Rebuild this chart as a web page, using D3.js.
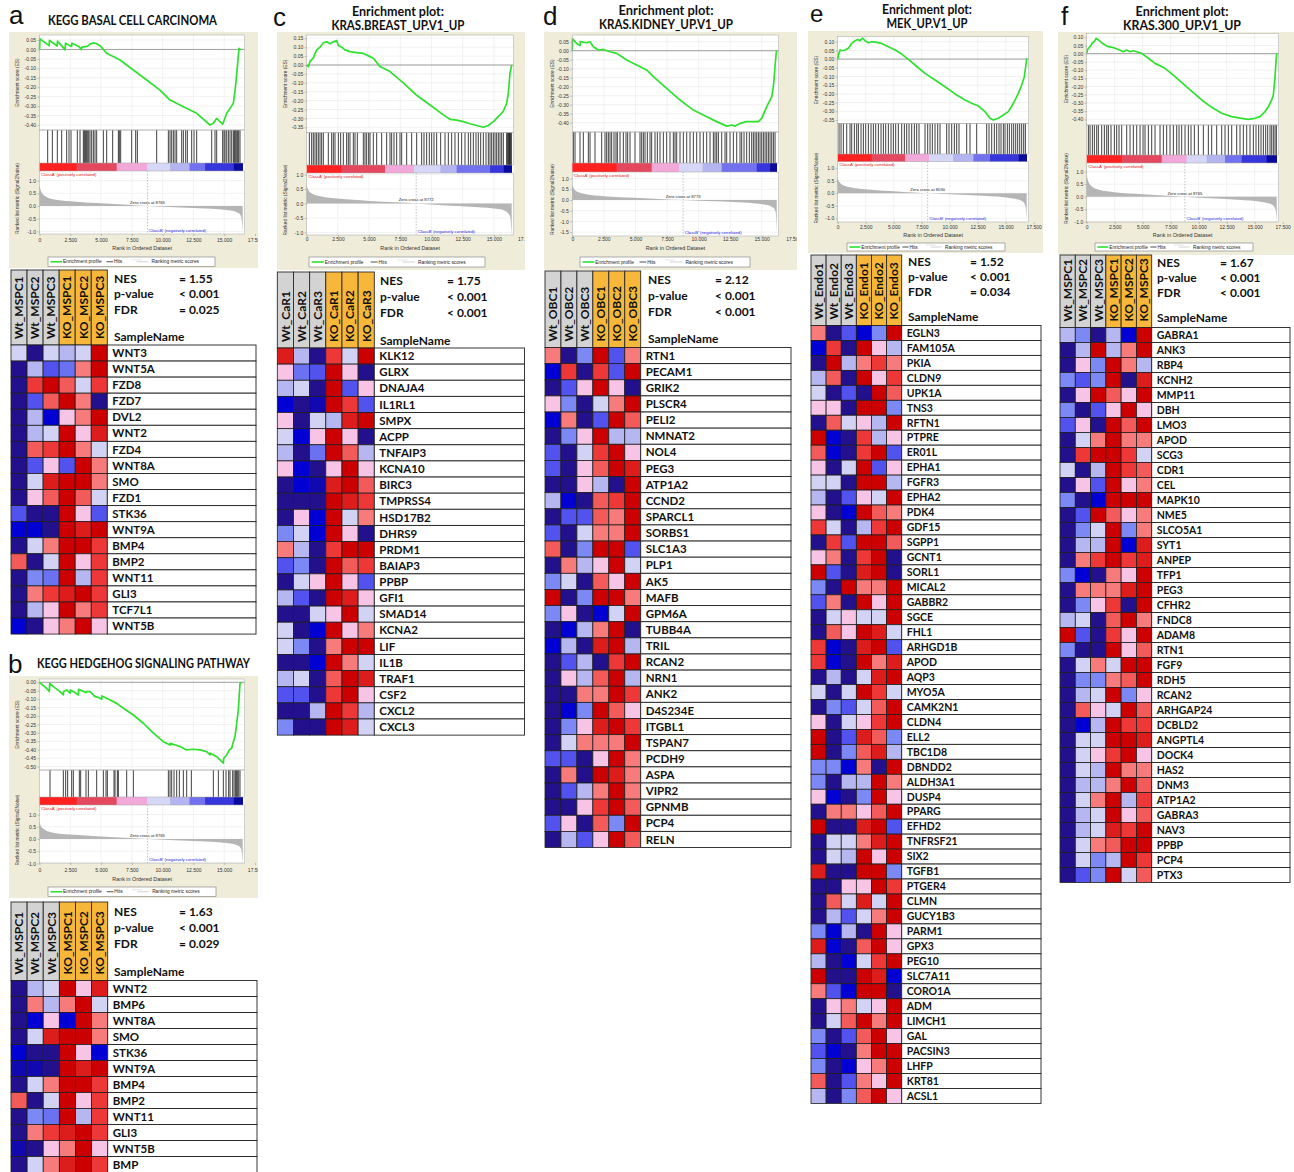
<!DOCTYPE html>
<html>
<head>
<meta charset="utf-8">
<script src="https://cdn.jsdelivr.net/npm/d3@7"></script>
<style>
  body { margin: 0; background: #fff; }
  svg { display: block; }
</style>
</head>
<body>
<svg id="fig" width="1294" height="1172"></svg>
<script>
// ---------------- data ----------------
const statNames = ["NES", "p-value", "FDR"];
const rankTicks = [0, 2500, 5000, 7500, 10000, 12500, 15000, 17500];

const mspcSamples = ["Wt_MSPC1", "Wt_MSPC2", "Wt_MSPC3", "KO_MSPC1", "KO_MSPC2", "KO_MSPC3"];
const carSamples = ["Wt_CaR1", "Wt_CaR2", "Wt_CaR3", "KO_CaR1", "KO_CaR2", "KO_CaR3"];
const obcSamples = ["Wt_OBC1", "Wt_OBC2", "Wt_OBC3", "KO_OBC1", "KO_OBC2", "KO_OBC3"];
const endoSamples = ["Wt_Endo1", "Wt_Endo2", "Wt_Endo3", "KO_Endo1", "KO_Endo2", "KO_Endo3"];

// expression levels (row z-score, -4 lowest .. 4 highest)
const heatLevels = [-4, -3, -2, -1.5, -1, 0, 1, 2, 3, 4];
const heatPalette = ["#22108c", "#0000d4", "#5252ee", "#7c88f4", "#b6b6f0", "#d2d2f5", "#f8c4e6", "#f77b7b", "#ee3838", "#cc0000"];
// ranked-list colour bar levels (+1 most positively, -1 most negatively correlated)
const barLevels = [-1, -0.8, -0.6, -0.4, -0.2, 0.3, 0.7, 1];
const barPalette = ["#0a0a9c", "#3636dc", "#7272ee", "#b4b4f0", "#d6d6f7", "#f2a8d8", "#e4485e", "#ff2020"];

// (a) KEGG basal cell carcinoma
const basalTitle = ["KEGG BASAL CELL CARCINOMA"];
const basalStats = ["= 1.55", "< 0.001", "= 0.025"];
const basalSize = 16500, basalZero = 8765;
const basalESTicks = [0.05, 0, -0.05, -0.10, -0.15, -0.20, -0.25, -0.30, -0.35, -0.40];
const basalES = [[0,0],[40,0.056],[780,0.02],[810,0.048],[1430,0.018],[1460,0.044],[2080,-0.002],[2110,0.033],[2600,0.016],[2630,0.033],[3200,0.016],[3400,-0.002],[3430,0.012],[3880,0.016],[4100,0.028],[4380,0.035],[4650,0.03],[4914,0.02],[5455,-0.02],[6538,-0.056],[7621,-0.109],[8704,-0.162],[9786,-0.215],[10599,-0.268],[11682,-0.303],[12764,-0.338],[13847,-0.40],[14118,-0.391],[14380,-0.365],[14876,-0.396],[15201,-0.338],[15471,-0.312],[15742,-0.285],[15932,-0.188],[16067,-0.091],[16202,0.006],[16338,-0.003]];
const basalHits = [664,1043,1449,1801,2207,2396,2559,3073,3290,3561,3642,3723,3804,3885,3994,4102,4237,4373,4508,4643,5185,5455,5943,6403,6484,6592,7485,7810,7946,9516,10463,10599,10734,10869,11005,11140,11546,11682,11871,12006,12358,12548,12764,13983,14253,14389,14876,14984,15066,15201,15336,15472,15607,15742,15824,15905,16013,16094,16175,16283];
const basalMetric = [[0,0.82],[150,0.55],[500,0.37],[1100,0.27],[2500,0.19],[5000,0.11],[7200,0.05],[8765,0],[10500,-0.04],[13500,-0.1],[15500,-0.18],[16150,-0.28],[16380,-0.42],[16500,-0.95]];
const basalBands = [[0,1],[3019,0.7],[6268,0.3],[8765,-0.2],[10600,-0.4],[12169,-0.6],[13441,-0.8],[15742,-1]];
const basalGenes = ["WNT3","WNT5A","FZD8","FZD7","DVL2","WNT2","FZD4","WNT8A","SMO","FZD1","STK36","WNT9A","BMP4","BMP2","WNT11","GLI3","TCF7L1","WNT5B"];
const basalValues = [
  [0,-4,0,-1,0,4],[-4,-1,-2,-1.7,2,4],[-4,3,4,2.5,0,3],[-4,-2,2.5,4,2,-4],[-4,-1,-3,1,2,4],[-4,-1,0,4,1,3.5],
  [-4,2.5,3,4,2,0],[-4,-2,1,-2,4,2],[-4,0,3.5,4,4,2],[-4,1,2.5,4,2.5,0],[-2,-4,-4,4,1,-2],[-3,-3,-4,4,3.5,4],
  [-4,0,2,4,4,3],[2.5,-4,0,4,1,3],[-4,-1.5,-1.7,4,-1,3],[-4,2,3,3.5,4,3],[-4,-1,1,4,2,3],[-3,-4,1,2,4,1]];

// (b) KEGG hedgehog signalling pathway
const hedgehogTitle = ["KEGG HEDGEHOG SIGNALING PATHWAY"];
const hedgehogStats = ["= 1.63", "< 0.001", "= 0.029"];
const hedgehogSize = 16500, hedgehogZero = 8765;
const hedgehogESTicks = [0, -0.05, -0.10, -0.15, -0.20, -0.25, -0.30, -0.35, -0.40, -0.45, -0.50];
const hedgehogES = [[0,0],[583,-0.036],[799,-0.055],[830,-0.006],[1124,-0.026],[1665,-0.055],[1936,-0.075],[1960,-0.055],[2207,-0.045],[2478,-0.065],[2500,-0.045],[2884,-0.061],[3154,-0.075],[3180,-0.042],[3777,-0.061],[3800,-0.055],[4102,-0.055],[4508,-0.085],[4779,-0.089],[5049,-0.101],[5070,-0.081],[5726,-0.105],[6268,-0.125],[6809,-0.154],[7621,-0.194],[8433,-0.243],[9245,-0.302],[10057,-0.352],[10599,-0.372],[10620,-0.362],[11411,-0.381],[11952,-0.401],[12494,-0.397],[13035,-0.401],[13577,-0.411],[13847,-0.431],[13870,-0.421],[14389,-0.441],[14930,-0.48],[14960,-0.451],[15201,-0.431],[15417,-0.401],[15607,-0.391],[15742,-0.352],[15878,-0.322],[16013,-0.243],[16148,-0.164],[16283,-0.006],[16446,0]];
const hedgehogHits = [854,1936,2126,2288,2613,2748,3235,3344,3777,3967,4643,5185,5401,5510,6051,6132,6322,6403,7080,7621,10463,10599,10734,10924,11140,11357,11682,11952,12331,14118,14524,14930,15146,15363,15471,15688,15796,15905,15986,16067,16175,16283];
const hedgehogMetric = [[0,0.68],[150,0.5],[500,0.36],[1100,0.26],[2500,0.18],[5000,0.1],[7200,0.04],[8765,0],[10500,-0.04],[13500,-0.1],[15500,-0.18],[16150,-0.28],[16380,-0.42],[16500,-0.95]];
const hedgehogBands = [[0,1],[3019,0.7],[6268,0.3],[8765,-0.2],[10600,-0.4],[12169,-0.6],[13441,-0.8],[15742,-1]];
const hedgehogGenes = ["WNT2","BMP6","WNT8A","SMO","STK36","WNT9A","BMP4","BMP2","WNT11","GLI3","WNT5B","BMP"];
const hedgehogValues = [
  [-4,-1,0,4,1,3.5],[-4,2,-1,2,4,0],[-4,-3,1,-3,4,2],[-4,0,3.5,4,4,2],[-3,-4,-4,4,1,-3],[-3.5,-3.5,-4,4,3.5,4],
  [-4,0,2,4,4,3],[2.5,-4,0,4,1,3],[-4,-1.5,-1.7,4,-1,3],[-4,2,3,3.5,4,3],[-3.5,-4,1,2,4,1],[-4,0,2,3.5,4,3]];

// (c) KRAS.BREAST_UP.V1_UP
const breastTitle = ["Enrichment plot:", "KRAS.BREAST_UP.V1_UP"];
const breastStats = ["= 1.75", "< 0.001", "< 0.001"];
const breastSize = 16424, breastZero = 8772;
const breastESTicks = [0.15, 0.10, 0.05, 0, -0.05, -0.10, -0.15, -0.20, -0.25, -0.30, -0.35];
const breastES = [[0,0],[131,-0.01],[264,0.02],[531,0.04],[798,0.085],[1066,0.10],[1333,0.125],[1600,0.13],[1867,0.12],[2134,0.13],[2401,0.137],[2535,0.11],[2802,0.10],[3069,0.085],[3469,0.075],[4004,0.07],[4538,0.065],[5072,0.047],[5339,0.038],[5873,-0.009],[6675,-0.037],[7743,-0.10],[8811,-0.17],[9880,-0.225],[10948,-0.28],[11482,-0.305],[12017,-0.31],[12551,-0.318],[13085,-0.33],[13619,-0.34],[14153,-0.35],[14554,-0.34],[14955,-0.318],[15489,-0.28],[15756,-0.26],[16023,-0.215],[16157,-0.16],[16291,-0.047],[16424,0]];
const breastHits = [211,398,531,665,798,932,1066,1199,1333,1733,2000,2134,2267,2535,2722,2935,3202,3336,3469,3737,3870,4057,4538,4671,4805,4965,5072,5339,5606,6007,6408,6675,6808,6995,7209,7476,7610,8010,8411,8811,9212,9399,9613,9826,10013,10200,10414,10734,11082,11349,11616,11883,12150,12417,12684,12951,13138,13352,13565,13752,13939,14153,14367,14554,14688,14821,14955,15089,15222,15356,15489,15623,15756,16023,16077,16157,16210,16237,16291,16344,16397];
const breastMetric = [[0,0.62],[150,0.45],[500,0.33],[1100,0.25],[2500,0.17],[5000,0.09],[7200,0.04],[8772,0],[10500,-0.05],[13500,-0.12],[15500,-0.2],[16050,-0.3],[16300,-0.45],[16424,-1.1]];
const breastBands = [[0,1],[2802,0.7],[6274,0.3],[8598,-0.2],[10700,-0.4],[12017,-0.6],[14690,-0.8],[15756,-1]];
const breastGenes = ["KLK12","GLRX","DNAJA4","IL1RL1","SMPX","ACPP","TNFAIP3","KCNA10","BIRC3","TMPRSS4","HSD17B2","DHRS9","PRDM1","BAIAP3","PPBP","GFI1","SMAD14","KCNA2","LIF","IL1B","TRAF1","CSF2","CXCL2","CXCL3"];
const breastValues = [
  [3.5,-1,-4,3,0,4],[1,-1.7,-2,4,1,-4],[-1,0,-4,4,-2,1],[-3,-4,-3.5,4,3,-2],[1,-4,0,-1,3.5,4],[0,-3,1,4,1,-4],
  [-1,-4,-1.7,4,2.5,-1],[1,-3,-4,1,4,1],[-4,-3,-3.5,3.5,4,2.5],[-4,-4,-4,4,3.5,3],[-4,1,-3,4,0,2],[-1.5,0,-3,4,1,-4],
  [2,-1,-4,3,4,4],[-2,-1.5,-4,4,2.5,3],[-4,0,1,4,1,-2],[-1,-2,-4,4,3.5,1],[-4,-4,0,1,4,0],[0,-4,-3,4,1,2],
  [0,-1.5,-4,2,4,4],[-4,-4,-3,4,2,0],[-1,0,-4,2.5,4,3.5],[-2,-2,-4,3,4,1],[-4,-4,-1,4,3,-1],[-1.5,-4,-4,4,3.5,0]];

// (d) KRAS.KIDNEY_UP.V1_UP
const kidneyTitle = ["Enrichment plot:", "KRAS.KIDNEY_UP.V1_UP"];
const kidneyStats = ["= 2.12", "< 0.001", "< 0.001"];
const kidneySize = 16186, kidneyZero = 8773;
const kidneyESTicks = [0.05, 0, -0.05, -0.10, -0.15, -0.20, -0.25, -0.30, -0.35, -0.40];
const kidneyES = [[0,0],[20,0.066],[346,0.04],[610,0.028],[640,0.05],[1138,0.044],[1402,0.05],[1666,0.022],[2062,0.004],[2458,0.007],[2986,-0.006],[3514,-0.015],[4306,-0.052],[5098,-0.08],[5890,-0.107],[6418,-0.144],[7474,-0.209],[8530,-0.274],[9586,-0.33],[10642,-0.367],[11434,-0.394],[12226,-0.419],[12622,-0.413],[12886,-0.419],[13282,-0.404],[13810,-0.394],[14338,-0.394],[14734,-0.394],[14998,-0.376],[15394,-0.311],[15790,-0.256],[15922,-0.2],[16054,-0.089],[16140,-0.015],[16186,0.002]];
const kidneyHits = [82,214,610,874,1270,1402,1798,2326,2590,2722,2854,2986,3118,3303,3461,3567,3778,4042,4253,4385,4570,4966,5362,5494,5626,5758,5943,6154,6286,6550,6735,6946,7210,7474,7738,8002,8134,8266,8530,8794,9058,9322,9586,9850,10114,10378,10642,10906,11170,11302,11434,11566,11830,12094,12226,12490,12754,13018,13282,13414,13599,13810,14021,14206,14338,14470,14602,14734,14866,14998,15130,15262,15394,15526,15658,15790,15922,16054];
const kidneyMetric = [[0,0.72],[150,0.5],[500,0.36],[1100,0.27],[2500,0.18],[5000,0.1],[7200,0.04],[8773,0],[10500,-0.05],[13500,-0.12],[15300,-0.22],[15900,-0.35],[16100,-0.55],[16186,-1.45]];
const kidneyBands = [[0,1],[3514,0.7],[6286,0.3],[8477,-0.2],[10300,-0.4],[11830,-0.6],[14602,-0.8],[15658,-1]];
const kidneyGenes = ["RTN1","PECAM1","GRIK2","PLSCR4","PELI2","NMNAT2","NOL4","PEG3","ATP1A2","CCND2","SPARCL1","SORBS1","SLC1A3","PLP1","AK5","MAFB","GPM6A","TUBB4A","TRIL","RCAN2","NRN1","ANK2","D4S234E","ITGBL1","TSPAN7","PCDH9","ASPA","VIPR2","GPNMB","PCP4","RELN"];
const kidneyValues = [
  [2,-4,-1.5,4,-2,2],[-3,3,-4,3,-2,4],[-4,-2,1,4,1,-4],[1,-1.5,-4,0,2,4],[-3,2,-4,-2,4,2.5],[-4,-1.5,1,4,-1,-1],
  [-2,-4,0,3,4,1],[-2,-4,1,2.5,4,3.5],[-4,-4,1,-1,-4,4],[-1,-3,-4,2.5,3,4],[-4,-2,-2,2.5,2,4],[-2,-4,0,2,2,4],
  [2.5,-4,-1.5,4,4,-2],[-4,2,-1,1,4,0],[-1.5,0,-4,2.5,1,4],[4,-4,-1.5,4,4,2],[-1.5,1,-4,-3,0,4],[-4,-3,-1,2,4,-4],
  [-3,-1,-4,3.5,4,-1],[-4,-2,-1,-4,3,4],[-4,1,-1,2.5,4,-1],[-4,-4,2,2,4,3],[-4,-3,-1.5,4,2.5,1],[-4,-1.5,1,3.5,4,3],
  [-4,0,2,2,2,4],[-2,-2,-4,1,4,2],[-4,2,-4,4,3.5,2],[-4,-2,-1,2,4,2],[-4,-4,1,3,4,2.5],[-2,1,-4,2.5,-1.5,4],[-4,-1,-2,1,4,2.5]];

// (e) MEK_UP.V1_UP
const mekTitle = ["Enrichment plot:", "MEK_UP.V1_UP"];
const mekStats = ["= 1.52", "< 0.001", "= 0.034"];
const mekSize = 16874, mekZero = 8030;
const mekESTicks = [0.10, 0.05, 0, -0.05, -0.10, -0.15, -0.20, -0.25, -0.30, -0.35];
const mekES = [[0,0],[60,0.023],[208,0.052],[357,0.048],[655,0.052],[952,0.062],[1250,0.09],[1548,0.106],[1786,0.113],[1994,0.106],[2202,0.12],[2440,0.106],[2738,0.094],[3036,0.10],[3482,0.096],[3928,0.09],[4524,0.071],[5119,0.052],[5714,0.029],[6309,-0.002],[6904,-0.034],[7797,-0.082],[8690,-0.12],[9583,-0.159],[10476,-0.2],[11368,-0.235],[11964,-0.254],[12559,-0.27],[13154,-0.302],[13600,-0.34],[13898,-0.35],[14344,-0.34],[14791,-0.321],[15237,-0.302],[15684,-0.254],[16130,-0.197],[16427,-0.149],[16666,-0.101],[16785,-0.044],[16874,0.004]];
const mekHits = [119,298,506,804,1101,1250,1488,1696,1845,2083,2292,2500,2738,2976,3184,3393,3631,3869,4077,4285,4524,4762,4970,5178,5416,5714,5952,6160,6369,6607,6845,7053,7261,7797,8035,8244,8452,8690,8928,9136,9732,9940,10178,10416,10624,10833,11517,11815,12410,13303,13511,13749,13987,14196,14404,14582,14791,14940,15148,15327,15535,15713,15892,16070,16249,16427,16606,16755];
const mekMetric = [[0,0.62],[150,0.45],[500,0.32],[1100,0.24],[2500,0.16],[5000,0.08],[6800,0.03],[8030,0],[10000,-0.04],[13000,-0.1],[15500,-0.2],[16500,-0.32],[16750,-0.5],[16874,-1.0]];
const mekBands = [[0,1],[3036,0.7],[6012,0.3],[8154,-0.2],[10300,-0.4],[12112,-0.6],[13600,-0.8],[16130,-1]];
const mekGenes = ["EGLN3","FAM105A","PKIA","CLDN9","UPK1A","TNS3","RFTN1","PTPRE","ER01L","EPHA1","FGFR3","EPHA2","PDK4","GDF15","SGPP1","GCNT1","SORL1","MICAL2","GABBR2","SGCE","FHL1","ARHGD1B","APOD","AQP3","MYO5A","CAMK2N1","CLDN4","ELL2","TBC1D8","DBNDD2","ALDH3A1","DUSP4","PPARG","EFHD2","TNFRSF21","SIX2","TGFB1","PTGER4","CLMN","GUCY1B3","PARM1","GPX3","PEG10","SLC7A11","CORO1A","ADM","LIMCH1","GAL","PACSIN3","LHFP","KRT81","ACSL1"];
const mekValues = [
  [2,-4,-2,-3,-1.5,4],[-3,3,-4,4,1,-1],[-4,4,-1,2,3,2],[-1,2.5,-4,4,1,3],[0,-4,-2,-4,4,2.5],[1,1,-4,4,4,-1.5],
  [-4,2.5,0,1,-1,4],[4,-3,-4,3,-1,1],[2.5,-3,-4,3,4,-2],[1,-4,0,4,-2,1],[0,0,-4,4,4,-1],[-1,-4,-2,1,0,4],
  [1,-4,-3,4,2.5,2],[3,0,-4,-1,3,4],[-4,3,-2,4,4,2.5],[1,2,-4,3,4,-4],[4,-2,-4,3.5,4,-4],[-1.5,-4,4,2,2,4],
  [-2,2,-4,4,1,4],[-4,0,1,0,0,4],[-4,2.5,1,4,3.5,0],[3,-3,-4,3.5,4,-2],[3,-3,-4,4,2,3.5],[-4,-1,-4,0,3.5,4],
  [0,-4,0,4,3,0],[-4,-1.5,-2,0,2.5,4],[1,-4,0,1,3,4],[4,-4,-2,3.5,2.5,-1.5],[4,-4,-1.5,2.5,3.5,-1],[-1.5,-1.5,-3,2,-4,4],
  [-1.5,-4,-1,-1,4,2],[1,-3,-4,-1.5,4,1],[-4,2,2,1,2.5,4],[4,-4,-4,3.5,4,-2],[-4,0,0,2,3.5,4],[-4,0,-1,4,1,4],
  [3.5,-4,-4,4,4,-1.5],[-4,-4,1,1,4,3],[-4,2.5,0,3.5,0,4],[-4,-1,-2,0,2,4],[-1.5,-3,-1,-4,4,1],[3.5,-3,-4,2.5,4,1],
  [-1,-4,-3,0,3,4],[4,-4,-4,4,3.5,-3],[2,-2,-3,4,4,-4],[-4,1,2,0,1,4],[-4,0,2.5,4,2,4],[-1.5,-4,-2,2.5,4,1],
  [-2,-3,-4,2,4,4],[-1.5,-4,-3,1,2,4],[2.5,-4,-2,2,1,4],[-1,-4,-1.5,2.5,4,1]];

// (f) KRAS.300_UP.V1_UP
const kras300Title = ["Enrichment plot:", "KRAS.300_UP.V1_UP"];
const kras300Stats = ["= 1.67", "< 0.001", "< 0.001"];
const kras300Size = 16963, kras300Zero = 8765;
const kras300ESTicks = [0.10, 0.05, 0, -0.05, -0.10, -0.15, -0.20, -0.25, -0.30, -0.35, -0.40];
const kras300ES = [[0,0.002],[89,0.027],[298,0.043],[506,0.067],[684,0.074],[833,0.094],[1042,0.084],[1339,0.067],[1637,0.053],[1934,0.043],[2381,0.037],[2827,0.026],[3274,0.012],[3571,0.022],[3869,0.012],[4166,0.018],[4464,0.012],[4910,0.002],[5506,-0.028],[6101,-0.059],[6994,-0.089],[7886,-0.14],[9077,-0.211],[10267,-0.282],[11160,-0.327],[12053,-0.363],[12946,-0.384],[13838,-0.394],[14434,-0.40],[15029,-0.394],[15475,-0.384],[15922,-0.353],[16219,-0.323],[16517,-0.282],[16666,-0.252],[16814,-0.14],[16904,-0.048],[16963,0.002]];
const kras300Hits = [149,298,506,684,893,1042,1339,1577,1786,1934,2172,2470,2678,2887,3125,3571,3869,4166,4464,4762,5030,5208,5506,5803,6101,6547,6845,7142,7440,7738,8035,8244,8482,8779,9077,9315,9613,9970,10416,10862,11160,11606,12053,12350,12648,12946,13392,13690,13987,14285,14583,14880,15118,15356,15565,15773,15982,16160,16368,16517,16666,16814,16934];
const kras300Metric = [[0,0.9],[150,0.6],[500,0.4],[1100,0.28],[2500,0.18],[5000,0.1],[7200,0.04],[8765,0],[10500,-0.05],[13500,-0.12],[15800,-0.22],[16600,-0.33],[16850,-0.5],[16963,-1.0]];
const kras300Bands = [[0,1],[3125,0.7],[6696,0.3],[8928,-0.2],[10700,-0.4],[12350,-0.6],[13838,-0.8],[16071,-1]];
const kras300Genes = ["GABRA1","ANK3","RBP4","KCNH2","MMP11","DBH","LMO3","APOD","SCG3","CDR1","CEL","MAPK10","NME5","SLCO5A1","SYT1","ANPEP","TFP1","PEG3","CFHR2","FNDC8","ADAM8","RTN1","FGF9","RDH5","RCAN2","ARHGAP24","DCBLD2","ANGPTL4","DOCK4","HAS2","DNM3","ATP1A2","GABRA3","NAV3","PPBP","PCP4","PTX3"];
const kras300Values = [
  [-1,-1.5,-4,-1,-3,4],[-4,-1,4,-1,2,4],[-4,1,-1.5,4,2,-1],[-1.5,-2,-1.5,4,-4,3.5],[-4,1,4,2.5,1,4],[-1.5,-4,-2,1,4,1],
  [-2,1,-4,4,2.5,4],[-4,0,2,4,2,2],[-4,3,4,4,3,0],[0,-4,-1,4,3,2.5],[-4,1,-2,4,1,2],[-1.5,-4,-3,4,4,4],
  [-4,-2,4,2.5,1,2],[-4,-1.5,0,4,-1.5,2],[-4,-1,-1,4,-3,3.5],[-4,2,3,4,3,3.5],[-1.5,-3,-4,2,1,4],[-4,2,2,2,3.5,4],
  [-4,-1.5,1,3,-4,4],[-1,0,-4,2.5,4,2],[4,-2,-4,3,1,4],[-1.5,-4,-4,4,1,2.5],[-4,0,2,0,4,4],[-4,-1.5,-1.5,2,2.5,4],
  [-4,-1,0,4,-1.5,1],[-4,2.5,1,0,4,2.5],[-4,-3,-1,4,3,3],[-4,0,0,4,4,3.5],[-4,0,1,3,4,1],[-4,0,-1,4,2,2],
  [-4,-1,-1,2,4,2.5],[-4,0,2,4,-1,3],[-4,-1,0,4,1,2.5],[-4,-1,0,3.5,3,4],[-4,0,2,2.5,4,4],[-4,0,-1.5,-1,4,3],[-4,-2,-1.5,4,0,2.5]];

// ---------------- drawing ----------------
const svg = d3.select("#fig");
const dotLocale = d3.formatLocale({decimal: ".", thousands: ",", grouping: [3], currency: ["", ""], minus: "-"});
const rankLocale = d3.formatLocale({decimal: ",", thousands: ".", grouping: [3], currency: ["", ""], minus: "-"});
const fmtES = dotLocale.format(".2f");
const fmtMetric = dotLocale.format(".1f");
const fmtRank = rankLocale.format(",d");
const heat = d3.scaleLinear().domain(heatLevels).range(heatPalette).interpolate(d3.interpolateRgb);
const barColor = d3.scaleLinear().domain(barLevels).range(barPalette).interpolate(d3.interpolateRgb);
const SMALL = "'Liberation Sans', Arial, sans-serif";
const BOLD = "Lato, 'Open Sans', sans-serif";

function styleAxis(sel) {
  sel.attr("font-family", SMALL).attr("font-size", 5);
  sel.select(".domain").attr("stroke", "#8a8a8a").attr("stroke-width", 0.5);
  sel.selectAll(".tick line").attr("stroke", "#8a8a8a").attr("stroke-width", 0.5);
  sel.selectAll(".tick text").attr("fill", "#333");
}

function drawGSEA(p, L) {
  const g = svg.append("g");
  const clipId = "clip-" + p.key;
  g.append("clipPath").attr("id", clipId).append("rect")
    .attr("x", L.box[0]).attr("y", L.box[1]).attr("width", L.box[2]).attr("height", L.box[3]);
  const c = g.append("g").attr("clip-path", `url(#${clipId})`);
  c.append("rect").attr("x", L.box[0]).attr("y", L.box[1]).attr("width", L.box[2]).attr("height", L.box[3])
    .attr("fill", "#efedda");

  const x = d3.scaleLinear().domain([0, 17500]).range([L.x0, L.x1]);
  const xr = x(p.size) + 2;
  const es = d3.scaleLinear().domain([L.esRef[0], L.esRef[2]]).range([L.esRef[1], L.esRef[3]]);
  const m = d3.scaleLinear().domain([L.mRef[0], L.mRef[2]]).range([L.mRef[1], L.mRef[3]]);
  const esB = L.esBottom, hitsB = L.hitsBottom, barB = L.barBottom, mB = L.metricBottom;

  c.append("rect").attr("x", L.x0).attr("y", L.esTop).attr("width", xr - L.x0).attr("height", mB - L.esTop).attr("fill", "#fff");

  // grid
  const grid = c.append("g").attr("stroke", "#e4e4e4").attr("stroke-width", 0.5);
  rankTicks.filter(t => t > 0 && x(t) < xr).forEach(t => {
    grid.append("line").attr("x1", x(t)).attr("x2", x(t)).attr("y1", L.esTop).attr("y2", esB);
    grid.append("line").attr("x1", x(t)).attr("x2", x(t)).attr("y1", barB).attr("y2", mB);
  });
  p.esTicks.forEach(t => grid.append("line").attr("x1", L.x0).attr("x2", xr).attr("y1", es(t)).attr("y2", es(t)));
  p.mTicks.forEach(t => grid.append("line").attr("x1", L.x0).attr("x2", xr).attr("y1", m(t)).attr("y2", m(t)));

  // zero line of ES
  c.append("line").attr("x1", L.x0).attr("x2", xr).attr("y1", es(0)).attr("y2", es(0)).attr("stroke", "#7a7a7a").attr("stroke-width", 0.7);

  // hits
  c.append("g").selectAll("line").data(p.hits).join("line")
    .attr("x1", d => x(d)).attr("x2", d => x(d)).attr("y1", esB).attr("y2", hitsB)
    .attr("stroke", "#111").attr("stroke-width", 0.8);

  // colour bar of the ranked list
  const bands = p.bands.map((b, i) => [b[0], i + 1 < p.bands.length ? p.bands[i + 1][0] : p.size, b[1]]);
  c.append("g").selectAll("rect").data(bands).join("rect")
    .attr("x", d => x(d[0])).attr("width", d => x(d[1]) - x(d[0]) + 0.3)
    .attr("y", hitsB).attr("height", barB - hitsB).attr("fill", d => barColor(d[2]));

  // ranked list metric
  const area = d3.area().x(d => x(d[0])).y0(m(0)).y1(d => m(d[1])).curve(d3.curveMonotoneX);
  c.append("path").datum(p.metric).attr("d", area).attr("fill", "#b5b5b5");
  c.append("line").attr("x1", x(p.zero)).attr("x2", x(p.zero)).attr("y1", barB).attr("y2", mB)
    .attr("stroke", "#9a9a9a").attr("stroke-width", 0.6).attr("stroke-dasharray", "1.5,1.5");

  // enrichment profile
  const line = d3.line().x(d => x(d[0])).y(d => es(d[1]));
  c.append("path").datum(p.es).attr("d", line).attr("fill", "none").attr("stroke", "#2fe12f").attr("stroke-width", 1.7).attr("stroke-linejoin", "round");

  // sub-panel frames
  const frame = c.append("g").attr("fill", "none").attr("stroke", "#a3a3a3").attr("stroke-width", 0.5);
  [[L.esTop, esB], [esB, hitsB], [barB, mB]].forEach(r =>
    frame.append("rect").attr("x", L.x0).attr("y", r[0]).attr("width", xr - L.x0).attr("height", r[1] - r[0]));

  // axes
  c.append("g").attr("transform", `translate(${L.x0},0)`)
    .call(d3.axisLeft(es).tickValues(p.esTicks).tickFormat(fmtES).tickSize(2).tickPadding(1.5)).call(styleAxis)
    .select(".domain").remove();
  c.append("g").attr("transform", `translate(${L.x0},0)`)
    .call(d3.axisLeft(m).tickValues(p.mTicks).tickFormat(fmtMetric).tickSize(2).tickPadding(1.5)).call(styleAxis)
    .select(".domain").remove();
  const pad = L.tickLabelY - mB - 2 - 1.8;
  c.append("g").attr("transform", `translate(0,${mB})`)
    .call(d3.axisBottom(x).tickValues(rankTicks).tickFormat(fmtRank).tickSize(2).tickPadding(pad)).call(styleAxis)
    .select(".domain").remove();

  // texts
  const t = (sx, sy, s, fill, size, anchor) => c.append("text").attr("x", sx).attr("y", sy).text(s)
    .attr("font-family", SMALL).attr("font-size", size).attr("fill", fill).attr("text-anchor", anchor || "start");
  t((L.x0 + xr) / 2, L.axisTitleY, "Rank in Ordered Dataset", "#333", 5.4, "middle");
  t(L.x0 + 1, barB + 4.5, "'ClassA' (positively correlated)", "#e01010", 4.2);
  t(x(p.zero) + 1, mB - 2, "'ClassB' (negatively correlated)", "#1a1ae0", 4.2);
  t(x(p.zero), m(0) - 2.2, "Zero cross at " + p.zero, "#222", 4.2, "middle");
  c.append("text").attr("transform", `translate(${L.box[0] + 10},${(L.esTop + esB) / 2}) rotate(-90)`)
    .attr("text-anchor", "middle").attr("font-family", SMALL).attr("font-size", 4.8).attr("fill", "#333")
    .text("Enrichment score (ES)");
  c.append("text").attr("transform", `translate(${L.box[0] + 10},${(hitsB + mB) / 2}) rotate(-90)`)
    .attr("text-anchor", "middle").attr("font-family", SMALL).attr("font-size", 4.8).attr("fill", "#333")
    .text("Ranked list metric (Signal2Noise)");

  // legend
  const [lx, ly, lw, lh] = L.legend;
  const lg = c.append("g");
  lg.append("rect").attr("x", lx).attr("y", ly).attr("width", lw).attr("height", lh).attr("fill", "#fff").attr("stroke", "#7a7a7a").attr("stroke-width", 0.6);
  const my = ly + lh / 2;
  lg.append("line").attr("x1", lx + lw * 0.015).attr("x2", lx + lw * 0.085).attr("y1", my).attr("y2", my).attr("stroke", "#2fe12f").attr("stroke-width", 1.6);
  lg.append("text").attr("x", lx + lw * 0.09).attr("y", my + 1.7).text("Enrichment profile").attr("font-family", SMALL).attr("font-size", 4.8).attr("fill", "#222");
  lg.append("line").attr("x1", lx + lw * 0.35).attr("x2", lx + lw * 0.39).attr("y1", my).attr("y2", my).attr("stroke", "#222").attr("stroke-width", 0.8);
  lg.append("text").attr("x", lx + lw * 0.395).attr("y", my + 1.7).text("Hits").attr("font-family", SMALL).attr("font-size", 4.8).attr("fill", "#222");
  lg.append("line").attr("x1", lx + lw * 0.5).attr("x2", lx + lw * 0.56).attr("y1", my - 2).attr("y2", my - 2).attr("stroke", "#ddd").attr("stroke-width", 0.8);
  lg.append("line").attr("x1", lx + lw * 0.53).attr("x2", lx + lw * 0.6).attr("y1", my).attr("y2", my).attr("stroke", "#c8c8c8").attr("stroke-width", 0.8);
  lg.append("text").attr("x", lx + lw * 0.62).attr("y", my + 1.7).text("Ranking metric scores").attr("font-family", SMALL).attr("font-size", 4.8).attr("fill", "#222");
}

function drawHeat(p, H) {
  const g = svg.append("g");
  const n = p.genes.length;
  const x = d3.scaleBand().domain(d3.range(p.samples.length)).range([H.x0, H.x1]);
  const y = d3.scaleBand().domain(d3.range(n)).range([H.rowTop, H.rowTop + n * H.rh]);

  // sample header
  const head = g.append("g");
  p.samples.forEach((s, i) => {
    head.append("rect").attr("x", x(i)).attr("y", H.headTop).attr("width", x.bandwidth()).attr("height", H.rowTop - H.headTop)
      .attr("fill", s.startsWith("KO") ? "#f6b73a" : "#d3d3d3").attr("stroke", "#2a2a2a").attr("stroke-width", 0.9);
    head.append("text")
      .attr("transform", `translate(${x(i) + x.bandwidth() / 2 + H.headFont * 0.36},${H.rowTop - 6}) rotate(-90)`)
      .attr("font-family", BOLD).attr("font-weight", 700).attr("font-size", H.headFont).attr("fill", "#111").text(s);
  });

  // expression cells
  const cells = g.append("g");
  p.values.forEach((row, r) => row.forEach((v, i) => {
    cells.append("rect").attr("x", x(i)).attr("y", y(r)).attr("width", x.bandwidth()).attr("height", y.bandwidth())
      .attr("fill", heat(v)).attr("stroke", "#1e1e1e").attr("stroke-width", 0.8);
  }));

  // gene names
  const names = g.append("g");
  p.genes.forEach((name, r) => {
    names.append("rect").attr("x", H.x1).attr("y", y(r)).attr("width", H.geneRight - H.x1).attr("height", y.bandwidth())
      .attr("fill", "#fff").attr("stroke", "#222").attr("stroke-width", 0.9);
    names.append("text").attr("x", H.x1 + 5).attr("y", y(r) + y.bandwidth() / 2 + H.geneFont * 0.36)
      .attr("font-family", BOLD).attr("font-weight", 700).attr("font-size", H.geneFont).attr("fill", "#111").text(name);
  });

  // statistics
  statNames.forEach((s, i) => {
    g.append("text").attr("x", H.statX).attr("y", H.statY[i]).text(s)
      .attr("font-family", BOLD).attr("font-weight", 700).attr("font-size", 12).attr("fill", "#111");
    g.append("text").attr("x", H.valX).attr("y", H.statY[i]).text(p.stats[i])
      .attr("font-family", BOLD).attr("font-weight", 700).attr("font-size", 12).attr("fill", "#111");
  });
  g.append("text").attr("x", H.statX).attr("y", H.sampleY).text("SampleName")
    .attr("font-family", BOLD).attr("font-weight", 700).attr("font-size", 12).attr("fill", "#111");
}

function drawHeading(letter, lx, ly, size, title, cx, ys, lengths) {
  svg.append("text").attr("x", lx).attr("y", ly).text(letter)
    .attr("font-family", SMALL).attr("font-size", size).attr("fill", "#111");
  title.forEach((s, i) => {
    svg.append("text").attr("x", cx).attr("y", ys[i]).attr("text-anchor", "middle").text(s)
      .attr("font-family", BOLD).attr("font-weight", 700).attr("font-size", 12.5).attr("fill", "#111")
      .attr("textLength", lengths[i]).attr("lengthAdjust", "spacingAndGlyphs");
  });
}

const mTicksStd = [1, 0.5, 0, -0.5, -1];
const mTicksWide = [1, 0.5, 0, -0.5, -1, -1.5];

// (a)
drawHeading("a", 9, 24, 26, basalTitle, 132.5, [25], [169]);
drawGSEA({key: "a", size: basalSize, zero: basalZero, es: basalES, hits: basalHits, metric: basalMetric, bands: basalBands, esTicks: basalESTicks, mTicks: mTicksStd},
  {box: [9, 32, 249, 236], x0: 39.5, x1: 255, esTop: 35, esBottom: 130, esRef: [0.05, 40, -0.40, 125], hitsBottom: 163, barBottom: 171, metricBottom: 234, mRef: [0, 206, 1, 180.6], tickLabelY: 240, axisTitleY: 249.5, legend: [48, 257, 167, 9.5]});
drawHeat({genes: basalGenes, values: basalValues, samples: mspcSamples, stats: basalStats},
  {x0: 11, x1: 107.3, geneRight: 256, headTop: 270, rowTop: 345, rh: 16.06, headFont: 12, geneFont: 11.5, statX: 114, valX: 179, statY: [283, 298, 314], sampleY: 341});

// (b)
drawHeading("b", 8, 673, 26, hedgehogTitle, 143.5, [667.5], [213]);
drawGSEA({key: "b", size: hedgehogSize, zero: hedgehogZero, es: hedgehogES, hits: hedgehogHits, metric: hedgehogMetric, bands: hedgehogBands, esTicks: hedgehogESTicks, mTicks: mTicksStd},
  {box: [9, 676, 249, 222], x0: 39.5, x1: 255, esTop: 679, esBottom: 770, esRef: [0, 682.3, -0.50, 766.6], hitsBottom: 797, barBottom: 805, metricBottom: 863, mRef: [0, 839, 1, 814.6], tickLabelY: 870.7, axisTitleY: 881, legend: [48, 887, 168, 9.5]});
drawHeat({genes: hedgehogGenes, values: hedgehogValues, samples: mspcSamples, stats: hedgehogStats},
  {x0: 11, x1: 107.7, geneRight: 257, headTop: 902, rowTop: 980.5, rh: 16.0, headFont: 12, geneFont: 11.5, statX: 114, valX: 179, statY: [916, 932, 948], sampleY: 976});

// (c)
drawHeading("c", 273, 25.5, 26, breastTitle, 398, [16, 29.5], [92, 133]);
drawGSEA({key: "c", size: breastSize, zero: breastZero, es: breastES, hits: breastHits, metric: breastMetric, bands: breastBands, esTicks: breastESTicks, mTicks: mTicksStd},
  {box: [277, 32, 248, 238], x0: 306.7, x1: 525.1, esTop: 35, esBottom: 132.7, esRef: [0.15, 38.3, -0.35, 127.3], hitsBottom: 165, barBottom: 173, metricBottom: 235, mRef: [0, 203.5, 1, 174.5], tickLabelY: 239.3, axisTitleY: 249.5, legend: [309, 257, 176, 10]});
drawHeat({genes: breastGenes, values: breastValues, samples: carSamples, stats: breastStats},
  {x0: 277.3, x1: 374.3, geneRight: 524.5, headTop: 272, rowTop: 348, rh: 16.13, headFont: 12, geneFont: 11.5, statX: 380, valX: 447, statY: [285, 301, 317], sampleY: 345});

// (d)
drawHeading("d", 543, 25, 26, kidneyTitle, 666, [14.5, 28.5], [95, 134]);
drawGSEA({key: "d", size: kidneySize, zero: kidneyZero, es: kidneyES, hits: kidneyHits, metric: kidneyMetric, bands: kidneyBands, esTicks: kidneyESTicks, mTicks: mTicksWide},
  {box: [544, 32, 253, 238], x0: 572.3, x1: 793.3, esTop: 35, esBottom: 132, esRef: [0.05, 41.7, -0.40, 122.7], hitsBottom: 163, barBottom: 172, metricBottom: 236, mRef: [0, 200, 1, 178.6], tickLabelY: 239.3, axisTitleY: 249.5, legend: [580, 257, 170, 10]});
drawHeat({genes: kidneyGenes, values: kidneyValues, samples: obcSamples, stats: kidneyStats},
  {x0: 545, x1: 640.7, geneRight: 791, headTop: 271, rowTop: 347.5, rh: 16.13, headFont: 12, geneFont: 11.5, statX: 648, valX: 715, statY: [284, 300, 316], sampleY: 343});

// (e)
drawHeading("e", 810, 22, 24, mekTitle, 927, [14, 27.5], [90, 81]);
drawGSEA({key: "e", size: mekSize, zero: mekZero, es: mekES, hits: mekHits, metric: mekMetric, bands: mekBands, esTicks: mekESTicks, mTicks: mTicksStd},
  {box: [808, 31, 235, 222], x0: 837.7, x1: 1033.7, esTop: 36.7, esBottom: 123.3, esRef: [0.10, 41.7, -0.35, 120], hitsBottom: 154, barBottom: 161.7, metricBottom: 222, mRef: [0, 193.3, 1, 168.3], tickLabelY: 227.3, axisTitleY: 236.5, legend: [847, 243, 158, 8]});
drawHeat({genes: mekGenes, values: mekValues, samples: endoSamples, stats: mekStats},
  {x0: 811, x1: 901.7, geneRight: 1041, headTop: 255, rowTop: 325.5, rh: 14.96, headFont: 12, geneFont: 10.5, statX: 908, valX: 970, statY: [266, 281, 296], sampleY: 321});

// (f)
drawHeading("f", 1061, 25, 26, kras300Title, 1182, [16, 29.5], [93, 118]);
drawGSEA({key: "f", size: kras300Size, zero: kras300Zero, es: kras300ES, hits: kras300Hits, metric: kras300Metric, bands: kras300Bands, esTicks: kras300ESTicks, mTicks: mTicksStd},
  {box: [1058, 32, 236, 223], x0: 1086.7, x1: 1282.7, esTop: 33.3, esBottom: 125, esRef: [0.10, 37.3, -0.40, 119.3], hitsBottom: 155, barBottom: 163, metricBottom: 222, mRef: [0, 196.7, 1, 171.7], tickLabelY: 227.3, axisTitleY: 236.5, legend: [1095, 243, 158, 8]});
drawHeat({genes: kras300Genes, values: kras300Values, samples: mspcSamples, stats: kras300Stats},
  {x0: 1060, x1: 1151.7, geneRight: 1290, headTop: 255, rowTop: 327.5, rh: 15, headFont: 12, geneFont: 10.5, statX: 1157, valX: 1220, statY: [267, 282, 297], sampleY: 322});
</script>
</body>
</html>
